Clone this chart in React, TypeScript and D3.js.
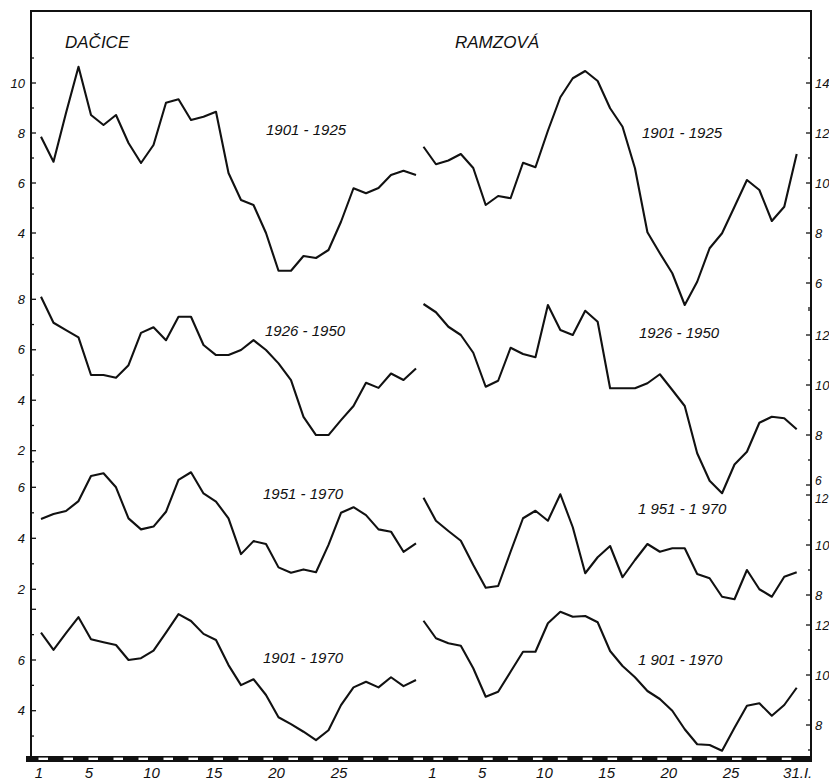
import { useRef, useEffect } from 'react';
import * as d3 from 'd3';

// days of January
const days = [1, 2, 3, 4, 5, 6, 7, 8, 9, 10, 11, 12, 13, 14, 15, 16, 17, 18, 19, 20, 21, 22, 23, 24, 25, 26, 27, 28, 29, 30, 31];

const stations = ['DAČICE', 'RAMZOVÁ'];
const daciceLabels = ['1901 - 1925', '1926 - 1950', '1951 - 1970', '1901 - 1970'];
const ramzovaLabels = ['1901 - 1925', '1926 - 1950', '1 951 - 1 970', '1 901 - 1970'];

const dacice1901_1925 = [7.85, 6.85, 8.8, 10.65, 8.72, 8.32, 8.72, 7.6, 6.8, 7.52, 9.21, 9.35, 8.52, 8.65, 8.85, 6.4, 5.32, 5.12, 4.0, 2.49, 2.49, 3.08, 3.0, 3.32, 4.45, 5.79, 5.59, 5.8, 6.32, 6.49, 6.32];
const dacice1926_1950 = [8.1, 7.07, 6.78, 6.49, 5.0, 5.0, 4.89, 5.39, 6.67, 6.89, 6.38, 7.31, 7.31, 6.19, 5.79, 5.79, 5.99, 6.38, 5.99, 5.46, 4.8, 3.34, 2.62, 2.62, 3.21, 3.77, 4.69, 4.49, 5.06, 4.8, 5.26];
const dacice1951_1970 = [4.76, 4.95, 5.07, 5.46, 6.44, 6.55, 6.0, 4.78, 4.35, 4.46, 5.04, 6.29, 6.59, 5.76, 5.44, 4.78, 3.38, 3.89, 3.78, 2.86, 2.65, 2.78, 2.67, 3.74, 5.0, 5.22, 4.91, 4.35, 4.26, 3.47, 3.8];
const dacice1901_1970 = [7.08, 6.4, 7.06, 7.69, 6.82, 6.7, 6.59, 6.0, 6.07, 6.37, 7.08, 7.81, 7.54, 7.03, 6.79, 5.8, 5.01, 5.24, 4.62, 3.74, 3.47, 3.17, 2.84, 3.23, 4.22, 4.92, 5.14, 4.92, 5.32, 4.97, 5.21];

const ramzova1901_1925 = [11.45, 10.75, 10.9, 11.16, 10.6, 9.12, 9.48, 9.39, 10.81, 10.63, 12.09, 13.43, 14.19, 14.48, 14.08, 12.99, 12.25, 10.59, 8.03, 7.19, 6.39, 5.12, 6.05, 7.39, 7.99, 9.05, 10.12, 9.72, 8.48, 9.05, 11.16];
const ramzova1926_1950 = [13.24, 12.91, 12.33, 12.0, 11.29, 9.93, 10.17, 11.49, 11.24, 11.11, 13.2, 12.2, 12.0, 12.97, 12.53, 9.87, 9.87, 9.87, 10.07, 10.43, 9.8, 9.16, 7.27, 6.17, 5.67, 6.82, 7.33, 8.49, 8.73, 8.67, 8.23];
const ramzova1951_1970 = [11.89, 10.97, 10.56, 10.17, 9.2, 8.29, 8.36, 9.73, 11.07, 11.37, 10.97, 12.03, 10.71, 8.87, 9.51, 9.96, 8.71, 9.4, 10.04, 9.73, 9.87, 9.87, 8.84, 8.67, 7.93, 7.83, 9.0, 8.23, 7.93, 8.73, 8.91];
const ramzova1901_1970 = [12.17, 11.47, 11.27, 11.17, 10.27, 9.13, 9.33, 10.13, 10.93, 10.93, 12.07, 12.53, 12.33, 12.36, 12.11, 10.96, 10.36, 9.91, 9.36, 9.04, 8.57, 7.83, 7.23, 7.2, 6.97, 7.89, 8.77, 8.87, 8.37, 8.8, 9.49];

// tick labels per row
const daciceTicks = [[10, 8, 6, 4], [8, 6, 4, 2], [6, 4, 2], [6, 4]];
const ramzovaTicks = [[14, 12, 10, 8, 6], [12, 10, 8, 6], [12, 10, 8], [12, 10, 8]];
const daciceDayTicks = ['1', '5', '10', '15', '20', '25'];
const ramzovaDayTicks = ['1', '5', '10', '15', '20', '25', '31.I.'];

const FONT = '"Liberation Sans", Arial, sans-serif';

export default function App() {
  const svgRef = useRef<SVGSVGElement>(null);

  useEffect(() => {
    if (!svgRef.current) return;
    const svg = d3.select(svgRef.current);
    svg.selectAll('*').remove();

    const frame = { left: 31, right: 811, top: 11, bottom: 757 };

    const panels = [
      {
        title: stations[0],
        titleX: 65,
        x: d3.scaleLinear().domain([1, 31]).range([41, 416]),
        series: [dacice1901_1925, dacice1926_1950, dacice1951_1970, dacice1901_1970],
        labels: daciceLabels,
        labelPos: [[266, 130], [265, 331], [263, 494], [263, 658]],
        rows: [
          { domain: [4, 10], range: [233, 83], minor: [3, 11], nudge: {} as Record<number, number> },
          { domain: [2, 8], range: [450.7, 299.3], minor: [2, 9], nudge: {} as Record<number, number> },
          { domain: [2, 6], range: [589.3, 487.3], minor: [2, 7], nudge: {} as Record<number, number> },
          { domain: [4, 6], range: [710.7, 660], minor: [3, 8], nudge: {} as Record<number, number> },
        ],
        ticks: daciceTicks,
        side: 'left',
        dayTicks: daciceDayTicks,
        dayOffset: -2,
        dashDays: [1, 3, 5, 7, 9, 11, 13, 15, 17, 19, 21, 23, 25, 27, 29, 31],
      },
      {
        title: stations[1],
        titleX: 455,
        x: d3.scaleLinear().domain([1, 31]).range([423.5, 796.7]),
        series: [ramzova1901_1925, ramzova1926_1950, ramzova1951_1970, ramzova1901_1970],
        labels: ramzovaLabels,
        labelPos: [[642, 133], [639, 333], [638, 509], [638, 660]],
        rows: [
          { domain: [6, 14], range: [283, 83], minor: [5, 15], nudge: {} as Record<number, number> },
          { domain: [8, 12], range: [435, 335], minor: [6, 13], nudge: { 6: -4 } as Record<number, number> },
          { domain: [8, 10], range: [595, 545], minor: [8, 12], nudge: { 12: 4 } as Record<number, number> },
          { domain: [8, 12], range: [725, 625], minor: [7, 12], nudge: {} as Record<number, number> },
        ],
        ticks: ramzovaTicks,
        side: 'right',
        dayTicks: ramzovaDayTicks,
        dayOffset: 9,
        dashDays: [2, 4, 6, 8, 10, 12, 14, 16, 18, 20, 22, 24, 26, 28, 30],
      },
    ];

    svg.append('rect')
      .attr('width', 829).attr('height', 783).attr('fill', '#fff');

    // Frame
    svg.append('path')
      .attr('d', `M${frame.left},${frame.bottom}V${frame.top}H${frame.right}V${frame.bottom}`)
      .attr('fill', 'none')
      .attr('stroke', '#111')
      .attr('stroke-width', 2);

    // Bottom strip with white dashes
    svg.append('rect')
      .attr('x', 26).attr('y', 756)
      .attr('width', frame.right - 26 + 1).attr('height', 6)
      .attr('fill', '#111');

    panels.forEach((p) => {
      const g = svg.append('g');

      // Title
      g.append('text')
        .attr('x', p.titleX).attr('y', 48)
        .attr('font-family', FONT).attr('font-style', 'italic')
        .attr('font-size', 17).attr('fill', '#111')
        .text(p.title);

      p.rows.forEach((row, i) => {
        const y = d3.scaleLinear().domain(row.domain).range(row.range);
        const pts = days.map((d, k) => ({ day: d, v: p.series[i][k] }));

        const line = d3.line<{ day: number; v: number }>()
          .x((d) => p.x(d.day))
          .y((d) => y(d.v));

        g.append('path')
          .datum(pts)
          .attr('fill', 'none')
          .attr('stroke', '#111')
          .attr('stroke-width', 2.1)
          .attr('stroke-linejoin', 'round')
          .attr('d', line);

        // period label
        g.append('text')
          .attr('x', p.labelPos[i][0]).attr('y', p.labelPos[i][1])
          .attr('dy', '0.35em')
          .attr('font-family', FONT).attr('font-style', 'italic')
          .attr('font-size', 15).attr('fill', '#111')
          .text(p.labels[i]);

        // axis ticks on the frame, pointing inward
        const edge = p.side === 'left' ? frame.left : frame.right;
        const dir = p.side === 'left' ? 1 : -1;
        const minorVals = d3.range(row.minor[0], row.minor[1] + 1);
        g.selectAll(null)
          .data(minorVals)
          .join('line')
          .attr('x1', edge)
          .attr('x2', (v) => edge + dir * (v % 2 === 0 ? 5 : 3))
          .attr('y1', (v) => y(v))
          .attr('y2', (v) => y(v))
          .attr('stroke', '#111')
          .attr('stroke-width', 1.3);

        g.selectAll(null)
          .data(p.ticks[i])
          .join('text')
          .attr('x', p.side === 'left' ? 25 : 815)
          .attr('y', (v) => y(v) + (row.nudge[v] ?? 0))
          .attr('dy', '0.36em')
          .attr('text-anchor', p.side === 'left' ? 'end' : 'start')
          .attr('font-family', FONT).attr('font-style', 'italic')
          .attr('font-size', (v) => (row.nudge[v] ? 12 : 13)).attr('fill', '#111')
          .text((v) => String(v));
      });

      // white dashes in the bottom strip
      g.selectAll(null)
        .data(p.dashDays)
        .join('rect')
        .attr('x', (d) => p.x(d) - 2.5)
        .attr('y', 757.6)
        .attr('width', 9.5)
        .attr('height', 2.4)
        .attr('fill', '#fff');

      // day labels
      g.selectAll(null)
        .data(p.dayTicks)
        .join('text')
        .attr('x', (t) => p.x(parseInt(t, 10)) + (t === '31.I.' ? 1 : p.dayOffset))
        .attr('y', 773)
        .attr('dy', '0.36em')
        .attr('text-anchor', 'middle')
        .attr('font-family', FONT).attr('font-style', 'italic')
        .attr('font-size', 15).attr('fill', '#111')
        .text((t) => t);
    });
  }, []);

  return (
    <svg
      ref={svgRef}
      width={829}
      height={783}
      style={{ position: 'absolute', left: 0, top: 0, display: 'block' }}
    />
  );
}
